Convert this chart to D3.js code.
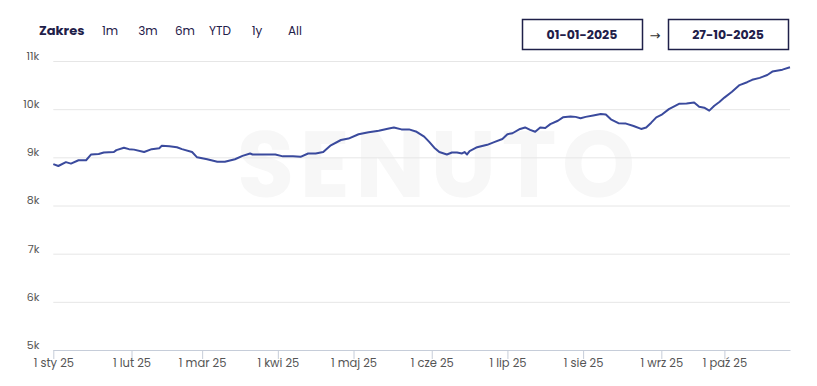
<!DOCTYPE html>
<html>
<head>
<meta charset="utf-8">
<script src="https://cdn.jsdelivr.net/npm/d3@7"></script>
<style>
  body { margin: 0; background: #fff; }
  svg { display: block; font-family: Poppins, Inter, "Noto Sans", sans-serif; }
</style>
</head>
<body>
<div id="chart"></div>
<script>
// trading days that have no point on the time axis
var missingDays = ["2025-03-31", "2025-07-31", "2025-09-26", "2025-09-27", "2025-09-28", "2025-09-29", "2025-09-30"];

var dates = [
    "2025-01-01", "2025-01-03", "2025-01-06", "2025-01-08", "2025-01-11", "2025-01-14", "2025-01-16", "2025-01-19",
    "2025-01-21", "2025-01-25", "2025-01-26", "2025-01-29", "2025-01-31", "2025-02-02", "2025-02-06", "2025-02-09",
    "2025-02-12", "2025-02-13", "2025-02-16", "2025-02-19", "2025-02-21", "2025-02-25", "2025-02-27", "2025-03-03",
    "2025-03-07", "2025-03-10", "2025-03-14", "2025-03-17", "2025-03-20", "2025-03-21", "2025-03-26", "2025-03-30",
    "2025-04-03", "2025-04-07", "2025-04-10", "2025-04-13", "2025-04-16", "2025-04-19", "2025-04-22", "2025-04-26",
    "2025-04-29", "2025-05-03", "2025-05-07", "2025-05-11", "2025-05-15", "2025-05-17", "2025-05-20", "2025-05-23",
    "2025-05-26", "2025-05-29", "2025-05-31", "2025-06-02", "2025-06-04", "2025-06-07", "2025-06-09", "2025-06-11",
    "2025-06-13", "2025-06-14", "2025-06-15", "2025-06-16", "2025-06-19", "2025-06-23", "2025-06-26", "2025-06-29",
    "2025-07-01", "2025-07-03", "2025-07-06", "2025-07-08", "2025-07-10", "2025-07-12", "2025-07-14", "2025-07-16",
    "2025-07-18", "2025-07-21", "2025-07-23", "2025-07-26", "2025-07-28", "2025-07-30", "2025-08-02", "2025-08-05",
    "2025-08-08", "2025-08-10", "2025-08-12", "2025-08-15", "2025-08-18", "2025-08-21", "2025-08-24", "2025-08-26",
    "2025-08-28", "2025-08-30", "2025-09-01", "2025-09-04", "2025-09-08", "2025-09-11", "2025-09-14", "2025-09-16",
    "2025-09-18", "2025-09-20", "2025-09-22", "2025-09-24", "2025-10-01", "2025-10-04", "2025-10-07", "2025-10-10",
    "2025-10-12", "2025-10-15", "2025-10-18", "2025-10-20", "2025-10-24", "2025-10-27"
];

var values = [
    8860, 8820, 8900, 8870, 8940, 8940, 9060, 9070,
    9100, 9110, 9150, 9200, 9170, 9160, 9110, 9170,
    9190, 9240, 9230, 9210, 9170, 9110, 9000, 8960,
    8910, 8910, 8960, 9030, 9080, 9060, 9060, 9060,
    9020, 9020, 9010, 9080, 9080, 9110, 9250, 9360,
    9390, 9480, 9520, 9550, 9600, 9620, 9580, 9580,
    9530, 9430, 9320, 9200, 9110, 9060, 9100, 9100,
    9080, 9110, 9060, 9130, 9210, 9260, 9320, 9380,
    9480, 9500, 9590, 9620, 9570, 9530, 9620, 9610,
    9690, 9760, 9830, 9850, 9840, 9810, 9840, 9870,
    9900, 9890, 9790, 9710, 9700, 9650, 9590, 9620,
    9720, 9830, 9880, 10000, 10110, 10120, 10140, 10050,
    10030, 9970, 10070, 10150, 10240, 10360, 10500, 10560,
    10610, 10650, 10710, 10780, 10820, 10870
];

var yTicks = [5000, 6000, 7000, 8000, 9000, 10000, 11000];
var xTicks = ["2025-01-01", "2025-02-01", "2025-03-01", "2025-04-01", "2025-05-01", "2025-06-01",
              "2025-07-01", "2025-08-01", "2025-09-01", "2025-10-01"];
var xTickLabels = ["1 sty 25", "1 lut 25", "1 mar 25", "1 kwi 25", "1 maj 25", "1 cze 25",
                   "1 lip 25", "1 sie 25", "1 wrz 25", "1 paź 25"];
var ranges = ["1m", "3m", "6m", "YTD", "1y", "All"];
var dateFrom = "01-01-2025";
var dateTo = "27-10-2025";

var W = 817, H = 386;
var plotLeft = 53.3, plotRight = 790, plotTop = 61, plotBottom = 350;
var navy = "#1f2049";

var fmt = d3.timeFormat("%Y-%m-%d");
var days = d3.timeDay.range(new Date(2025, 0, 1), new Date(2025, 9, 28))
    .map(fmt)
    .filter(function(d){ return missingDays.indexOf(d) < 0 });

var svg = d3.select("#chart")
    .append("svg")
    .attr("width", W)
    .attr("height", H);

var x = d3.scalePoint().domain(days).range([plotLeft, plotRight]);
var y = d3.scaleLinear().domain([5000, 11000]).range([plotBottom, plotTop]);

// watermark
svg.append("text")
    .attr("x", 237)
    .attr("y", 197)
    .attr("textLength", 398)
    .attr("lengthAdjust", "spacing")
    .attr("font-size", 93)
    .attr("font-weight", 700)
    .attr("fill", "#f7f7f7")
    .text("SENUTO");

// y grid + labels
var yAxis = svg.append("g")
    .attr("transform", "translate(" + plotLeft + ",0)")
    .call(d3.axisLeft(y)
        .tickValues(yTicks)
        .tickSize(-(plotRight - plotLeft))
        .tickPadding(14)
        .tickFormat(function(d){ return (d / 1000) + "k" }));
yAxis.select(".domain").remove();
yAxis.selectAll(".tick line").attr("stroke", "#e6e6e6");
yAxis.selectAll(".tick text")
    .attr("dy", "-0.15em")
    .attr("fill", "#555")
    .attr("font-size", 11)
    .attr("font-family", "Poppins, Inter, sans-serif");

// x axis
var xAxis = svg.append("g")
    .attr("transform", "translate(0," + plotBottom + ")")
    .call(d3.axisBottom(x)
        .tickValues(xTicks)
        .tickSize(9)
        .tickSizeOuter(0)
        .tickPadding(0)
        .tickFormat(function(d, i){ return xTickLabels[i] }));
xAxis.select(".domain").attr("stroke", "#c6cdd9");
xAxis.selectAll(".tick line").attr("stroke", "#c6cdd9");
xAxis.selectAll(".tick text")
    .attr("fill", "#555")
    .attr("font-size", 11.5)
    .attr("font-family", "Poppins, Inter, sans-serif");

// series line
var line = d3.line()
    .x(function(d, i){ return x(d) })
    .y(function(d, i){ return y(values[i]) });

svg.append("path")
    .datum(dates)
    .attr("d", line)
    .attr("fill", "none")
    .attr("stroke", "#3a4a9d")
    .attr("stroke-width", 2)
    .attr("stroke-linejoin", "round");

// range selector
svg.append("text")
    .attr("x", 39)
    .attr("y", 35)
    .attr("font-size", 13)
    .attr("font-weight", 700)
    .attr("fill", navy)
    .text("Zakres");

var rangeX = [110, 148, 185, 220, 257, 295];
svg.selectAll("text.range")
    .data(ranges)
    .enter()
    .append("text")
    .attr("class", "range")
    .attr("x", function(d, i){ return rangeX[i] })
    .attr("y", 35)
    .attr("text-anchor", "middle")
    .attr("font-size", 12)
    .attr("fill", navy)
    .text(function(d){ return d });

// date boxes
var boxes = [{x: 522, label: dateFrom}, {x: 668, label: dateTo}];
svg.selectAll("rect.box")
    .data(boxes)
    .enter()
    .append("rect")
    .attr("class", "box")
    .attr("x", function(d){ return d.x + 0.5 })
    .attr("y", 19.5)
    .attr("width", 120)
    .attr("height", 30)
    .attr("fill", "#fff")
    .attr("stroke", navy)
    .attr("stroke-width", 1.5);

svg.selectAll("text.box")
    .data(boxes)
    .enter()
    .append("text")
    .attr("class", "box")
    .attr("x", function(d){ return d.x + 60 })
    .attr("y", 39)
    .attr("text-anchor", "middle")
    .attr("font-size", 12.5)
    .attr("font-weight", 700)
    .attr("fill", navy)
    .text(function(d){ return d.label });

svg.append("text")
    .attr("x", 655)
    .attr("y", 40)
    .attr("text-anchor", "middle")
    .attr("font-size", 13)
    .attr("font-family", "'DejaVu Sans', sans-serif")
    .attr("fill", "#333")
    .text("→");
</script>
</body>
</html>
